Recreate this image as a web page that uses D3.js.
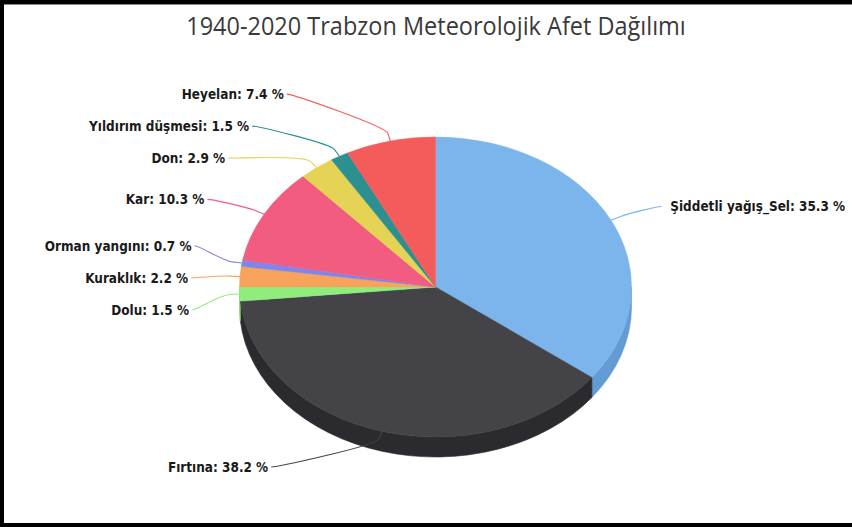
<!DOCTYPE html>
<html><head><meta charset="utf-8">
<script src="https://cdn.jsdelivr.net/npm/d3@7"></script>
<style>body{margin:0;background:#fff} svg{display:block}</style>
</head><body>
<svg id="c" width="852" height="527"></svg>
<script>
const chartTitle = "1940-2020 Trabzon Meteorolojik Afet Dağılımı";
const categories = ["Şiddetli yağış_Sel","Fırtına","Dolu","Kuraklık","Orman yangını","Kar","Don","Yıldırım düşmesi","Heyelan"];
const values = [35.3,38.2,1.5,2.2,0.7,10.3,2.9,1.5,7.4];
const colors = ["#7cb5ec","#434348","#90ed7d","#f7a35c","#8085e9","#f15c80","#e4d354","#2b908f","#f45b5b"];

const W=852,H=527;
const svg=d3.select("#c");
svg.append("rect").attr("width",W).attr("height",H).attr("fill","#fff");

// frame
svg.append("rect").attr("x",0).attr("y",0).attr("width",W).attr("height",4).attr("fill","#000");
svg.append("rect").attr("x",0).attr("y",4).attr("width",W).attr("height",1).attr("fill","#888");
svg.append("rect").attr("x",0).attr("y",0).attr("width",4).attr("height",H).attr("fill","#000");
svg.append("rect").attr("x",0).attr("y",H-4).attr("width",W).attr("height",4).attr("fill","#000");

// title
const tt=svg.append("text").attr("font-family","Open Sans, DejaVu Sans, sans-serif").attr("font-size",26)
  .attr("fill","#3a3a3a").attr("text-anchor","middle").text(chartTitle);
const tLen=tt.node().getComputedTextLength();
tt.attr("transform",`translate(436,35) scale(${500/tLen},1)`);

const cx=435.5, cy=287, rx=196, ry=150, depth=20;
const pie=d3.pie().sort(null).value(d=>d)(values);
const ptAt=(a,k=1,dz=0)=>[cx+rx*k*Math.sin(a), cy - ry*k*Math.cos(a)+dz];

const g=svg.append("g");
const lo=Math.PI/2, hi=3*Math.PI/2;
pie.forEach((p,i)=>{
  const a=Math.max(p.startAngle,lo), b=Math.min(p.endAngle,hi);
  if(b<=a) return;
  const [x0,y0]=ptAt(a),[x1,y1]=ptAt(b);
  const large=(b-a)>Math.PI?1:0;
  const d=`M${x0},${y0}A${rx},${ry} 0 ${large} 1 ${x1},${y1}L${x1},${y1+depth}A${rx},${ry} 0 ${large} 0 ${x0},${y0+depth}Z`;
  const c=d3.rgb(colors[i]); const s=d3.rgb(c.r-25,c.g-25,c.b-25);
  g.append("path").attr("d",d).attr("fill",s).attr("stroke",s).attr("stroke-width",0.6);
});
const arc=d3.arc().innerRadius(0).outerRadius(rx);
g.append("g").attr("transform",`translate(${cx},${cy}) scale(1,${ry/rx})`)
 .selectAll("path").data(pie).join("path").attr("d",arc)
 .attr("fill",(d,i)=>colors[i]).attr("stroke",(d,i)=>colors[i]).attr("stroke-width",0.6);

// labels
const lcx=433, lcy=287, LR=242, lyc=289, LRy=185, slot=32;
const items=pie.map((p,i)=>{const m=(p.startAngle+p.endAngle)/2; return {i,m,right:Math.sin(m)>0, ny: lyc - LRy*Math.cos(m)};});
function distribute(arr){
  arr.sort((a,b)=>a.ny-b.ny);
  let groups=arr.map(d=>({items:[d]}));
  const center=G=>d3.mean(G.items,d=>d.ny);
  let merged=true;
  while(merged){merged=false;
    for(let k=0;k<groups.length-1;k++){
      const A=groups[k],B=groups[k+1];
      const aEnd=center(A)+(A.items.length-1)/2*slot;
      const bStart=center(B)-(B.items.length-1)/2*slot;
      if(bStart-aEnd<slot){A.items=A.items.concat(B.items);groups.splice(k+1,1);merged=true;break;}
    }
  }
  groups.forEach(G=>{const c=center(G);G.items.forEach((d,j)=>d.y=c+(j-(G.items.length-1)/2)*slot);});
}
distribute(items.filter(d=>!d.right)); distribute(items.filter(d=>d.right));

const lg=svg.append("g");
items.forEach(d=>{
  const dy=Math.max(-LR,Math.min(LR,d.y-lcy));
  d.ax=lcx+(d.right?1:-1)*Math.sqrt(LR*LR-dy*dy);
  d.t=lg.append("text").attr("font-family","DejaVu Sans, sans-serif").attr("font-weight","bold")
    .attr("font-size",14).attr("fill","#1a1a1a").attr("dy","0.35em")
    .attr("text-anchor",d.right?"start":"end").text(`${categories[d.i]}: ${values[d.i]} %`);
});
const ref=items.find(d=>d.i===0);
const sx=175/ref.t.node().getComputedTextLength();
items.forEach(d=>{
  const tx=d.right?d.ax+9:d.ax-3;
  d.t.attr("transform",`translate(${tx},${d.y}) scale(${sx},1)`);
  const touch=ptAt(d.m), brk=ptAt(d.m,1+10/rx);
  const lx=d.ax, ly=d.y;
  const path=`M${lx},${ly}C${lx+(d.right?-5:5)},${ly} ${2*brk[0]-touch[0]},${2*brk[1]-touch[1]} ${brk[0]},${brk[1]}L${touch[0]},${touch[1]}`;
  lg.insert("path","text").attr("d",path).attr("fill","none").attr("stroke",colors[d.i]).attr("stroke-width",1.1);
});
</script>
</body></html>
